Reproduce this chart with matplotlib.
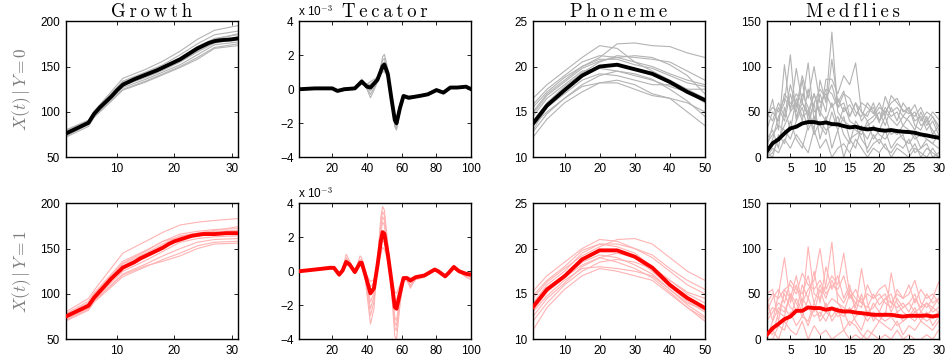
import matplotlib
matplotlib.use('Agg')
import matplotlib.pyplot as plt

plt.rcParams['mathtext.fontset'] = 'cm'
plt.rcParams['font.family'] = ['Liberation Sans', 'DejaVu Sans']

# ---------------- data ----------------
# Growth (x = 1..31)
growth_x = list(range(1, 32))
growth_mean0 = [76, 79, 82, 85, 88, 98, 105, 111, 117, 124, 130, 133, 136, 138.5, 141,
                143.5, 146, 149, 152, 155, 158, 162, 166, 170, 173, 176, 178, 179, 179.5, 180, 181]
growth_mean1 = [75, 78, 81, 84, 87, 96, 103, 110, 117, 123, 129, 132, 135, 139, 142,
                145, 148, 151, 155, 158, 160, 162, 164, 165, 166, 166, 166, 166.5, 167, 167, 167]
growth_knots = [1, 5, 6, 11, 15, 18, 21, 24, 27, 31]
growth_curves0 = [
    [80, 91, 101, 137, 147, 156, 167, 180, 190, 195],
    [78, 90, 100, 134, 144, 152, 163, 175, 185, 189],
    [77, 89, 99, 132, 142, 150, 160, 172, 181, 185],
    [76, 88, 98, 131, 140, 148, 157, 168, 178, 182],
    [75, 88, 97, 129, 138, 146, 155, 166, 176, 180],
    [74, 87, 96, 127, 136, 144, 152, 163, 174, 177],
    [73, 86, 95, 125, 134, 142, 150, 160, 171, 175],
    [72, 84, 94, 124, 133, 141, 149, 158, 170, 173],
    [79, 90, 100, 133, 143, 150, 158, 170, 180, 186],
    [76, 89, 98, 130, 139, 147, 156, 167, 177, 179],
]
growth_curves1 = [
    [80, 95, 104, 145, 158, 168, 176, 179, 181, 183],
    [78, 92, 101, 136, 148, 158, 166, 169, 171, 172],
    [76, 89, 99, 133, 145, 155, 164, 167, 169, 170],
    [75, 88, 97, 131, 143, 153, 162, 165, 167, 168],
    [74, 86, 95, 128, 140, 150, 160, 164, 165, 166],
    [73, 85, 94, 125, 137, 147, 157, 161, 163, 164],
    [71, 83, 92, 122, 133, 142, 150, 157, 160, 161],
    [70, 82, 91, 119, 130, 138, 145, 153, 157, 158],
    [72, 84, 93, 121, 131, 136, 142, 150, 155, 156],
    [77, 90, 100, 134, 147, 158, 163, 167, 170, 174],
]

# Tecator (units of 1e-3)
tec_x0 = [1, 10, 20, 23, 27, 33, 37, 40, 42, 46, 49, 50, 52, 54, 56, 57, 59, 61, 64,
          70, 75, 80, 84, 88, 92, 97, 100]
tec_mean0 = [0, 0.05, 0.05, -0.1, 0.0, 0.05, 0.45, 0.15, 0.1, 0.55, 1.35, 1.45, 0.9, -0.5,
             -1.8, -2.0, -1.1, -0.4, -0.5, -0.4, -0.3, -0.05, -0.2, 0.1, 0.1, 0.15, 0.0]
tec_curves0 = [
    [0.02, 0.08, 0.1, -0.05, 0.1, 0.1, 0.6, 0.0, -0.5, 0.4, 1.9, 2.05, 1.2, -0.6, -2.2, -2.4,
     -1.3, -0.45, -0.6, -0.45, -0.35, -0.1, -0.25, 0.05, 0.1, 0.2, 0.05],
    [0, 0.05, 0.08, -0.1, 0.05, 0.08, 0.55, 0.05, -0.3, 0.45, 1.7, 1.8, 1.1, -0.55, -2.1, -2.3,
     -1.2, -0.4, -0.55, -0.4, -0.3, -0.05, -0.2, 0.1, 0.12, 0.15, 0.0],
    [-0.02, 0.03, 0.03, -0.15, -0.05, 0.03, 0.35, 0.25, 0.3, 0.65, 1.1, 1.2, 0.75, -0.4, -1.6,
     -1.8, -0.95, -0.35, -0.45, -0.35, -0.25, 0.0, -0.15, 0.12, 0.1, 0.12, -0.02],
    [0.0, 0.06, 0.04, -0.12, 0.0, 0.05, 0.4, 0.2, 0.2, 0.6, 1.2, 1.3, 0.8, -0.45, -1.7, -1.9,
     -1.0, -0.35, -0.5, -0.4, -0.3, -0.05, -0.18, 0.08, 0.08, 0.14, 0.0],
    [0.03, 0.07, 0.06, -0.08, 0.05, 0.07, 0.5, 0.1, -0.1, 0.5, 1.5, 1.6, 1.0, -0.5, -1.95,
     -2.15, -1.15, -0.42, -0.52, -0.42, -0.32, -0.08, -0.22, 0.1, 0.1, 0.16, 0.02],
    [0.0, 0.04, 0.05, -0.1, 0.0, 0.06, 0.3, 0.3, 0.45, 0.7, 1.0, 1.05, 0.7, -0.35, -1.5, -1.7,
     -0.9, -0.3, -0.4, -0.35, -0.25, 0.0, -0.12, 0.12, 0.12, 0.12, 0.0],
]
tec_x1 = [1, 10, 19, 21, 24, 26, 28, 30, 33, 36, 37, 39, 42, 44, 46, 48, 49, 50, 52, 54,
          56, 57, 59, 61, 63, 65, 68, 73, 79, 81, 85, 87, 90, 93, 97, 100]
tec_mean1 = [0, 0.1, 0.2, 0.2, -0.2, 0.05, 0.55, 0.4, -0.05, 0.5, 0.5, -0.2, -1.3, -1.0, 0.3,
             1.8, 2.3, 2.2, 1.0, -0.5, -2.1, -2.2, -1.3, -0.4, -0.4, -0.55, -0.35, -0.25, 0.1,
             0.0, -0.3, -0.1, 0.25, 0.0, -0.15, -0.2]
tec_curves1 = [
    [0.02, 0.15, 0.3, 0.25, -0.3, 0.1, 1.0, 0.6, -0.1, 0.9, 0.8, -0.5, -3.1, -2.2, 0.5, 3.2,
     3.8, 3.6, 1.6, -1.0, -3.8, -4.0, -2.0, -0.5, -0.6, -0.9, -0.5, -0.35, 0.05, -0.05, -0.35,
     -0.15, 0.3, -0.05, -0.35, -0.5],
    [0.0, 0.12, 0.25, 0.22, -0.25, 0.08, 0.8, 0.5, -0.08, 0.7, 0.7, -0.35, -2.6, -1.8, 0.4, 2.9,
     3.5, 3.3, 1.4, -0.8, -3.3, -3.5, -1.8, -0.45, -0.5, -0.8, -0.45, -0.3, 0.1, 0.0, -0.3,
     -0.1, 0.35, 0.0, -0.25, -0.4],
    [0.0, 0.08, 0.15, 0.18, -0.15, 0.03, 0.35, 0.3, 0.0, 0.3, 0.3, -0.1, -0.6, -0.5, 0.2, 1.0,
     1.4, 1.3, 0.6, -0.3, -1.2, -1.3, -0.8, -0.35, -0.3, -0.4, -0.3, -0.2, 0.1, 0.05, -0.25,
     -0.05, 0.2, 0.02, -0.1, -0.1],
    [0.01, 0.1, 0.2, 0.2, -0.2, 0.05, 0.6, 0.45, -0.05, 0.55, 0.55, -0.25, -1.8, -1.3, 0.35,
     2.3, 2.9, 2.7, 1.2, -0.6, -2.7, -2.9, -1.5, -0.4, -0.45, -1.0, -0.4, -0.28, 0.15, 0.02,
     -0.3, -0.08, 0.28, 0.0, -0.2, -0.3],
    [0.0, 0.1, 0.18, 0.15, -0.18, 0.0, 0.4, 0.35, 0.0, 0.4, 0.4, -0.15, -0.9, -0.7, 0.25, 1.4,
     1.8, 1.7, 0.8, -0.4, -1.6, -1.7, -1.0, -0.38, -0.35, -0.45, -0.32, -0.22, 0.05, -0.02,
     -0.28, -0.12, 0.22, -0.02, -0.12, -0.15],
    [0.02, 0.12, 0.22, 0.22, -0.22, 0.06, 0.7, 0.45, -0.1, 0.6, 0.6, -0.3, -2.2, -1.5, 0.4, 2.6,
     3.2, 3.0, 1.3, -0.7, -3.0, -3.2, -1.6, -0.42, -0.48, -0.65, -0.42, -0.3, 0.12, 0.0, -0.32,
     -0.1, 0.3, -0.03, -0.3, -0.35],
]

# Phoneme
phon_x = [1, 5, 10, 15, 20, 25, 30, 35, 40, 45, 50]
phon_mean0 = [13.7, 15.7, 17.4, 19.0, 20.0, 20.2, 19.7, 19.2, 18.3, 17.2, 16.3]
phon_mean1 = [13.55, 15.5, 16.95, 18.8, 19.8, 19.8, 19.1, 17.9, 16.0, 14.55, 13.45]
phon_curves0 = [
    [16.5, 18.0, 19.5, 21.0, 22.3, 22.0, 20.5, 19.5, 18.5, 17.5, 16.5],
    [15.0, 17.0, 18.5, 20.0, 21.0, 22.5, 22.6, 22.3, 22.2, 21.5, 21.0],
    [14.0, 16.0, 17.8, 19.3, 20.5, 21.2, 21.0, 20.8, 20.5, 19.5, 18.5],
    [13.5, 15.0, 16.5, 17.8, 18.2, 18.5, 18.0, 17.0, 16.5, 16.0, 15.0],
    [12.2, 14.2, 16.0, 17.2, 18.2, 18.2, 17.5, 16.8, 16.5, 15.0, 13.5],
    [15.5, 17.2, 18.8, 20.0, 20.8, 20.8, 20.2, 19.8, 19.0, 18.2, 17.8],
    [14.5, 16.5, 18.0, 19.5, 19.8, 19.5, 19.0, 18.5, 17.8, 17.2, 16.0],
    [13.0, 15.5, 17.0, 18.5, 19.2, 19.0, 18.5, 18.0, 18.0, 17.5, 17.5],
    [15.8, 17.5, 19.0, 20.5, 21.2, 21.0, 20.5, 20.0, 19.2, 18.5, 18.0],
    [12.8, 14.8, 16.5, 18.0, 19.0, 19.5, 19.2, 18.6, 17.5, 16.2, 14.5],
    [14.8, 16.8, 18.3, 19.8, 20.6, 21.0, 21.2, 21.0, 20.2, 19.0, 17.0],
]
phon_curves1 = [
    [15.3, 17.0, 18.5, 20.0, 21.0, 20.8, 20.0, 19.0, 17.5, 16.0, 15.0],
    [14.5, 16.3, 17.8, 19.2, 20.2, 21.0, 21.1, 20.5, 19.0, 17.5, 16.5],
    [13.0, 14.8, 16.5, 17.8, 18.0, 17.8, 17.5, 17.0, 15.5, 13.8, 12.5],
    [11.0, 13.5, 15.5, 17.0, 17.8, 17.5, 17.0, 16.5, 15.0, 13.5, 12.0],
    [14.0, 16.0, 17.5, 19.5, 20.5, 20.2, 19.5, 18.0, 16.5, 15.0, 14.0],
    [12.5, 14.5, 16.2, 18.0, 19.0, 19.5, 19.0, 17.5, 15.8, 14.2, 13.0],
    [13.5, 15.5, 17.0, 18.5, 19.3, 19.0, 18.2, 17.2, 15.5, 14.0, 13.2],
    [12.0, 14.0, 16.0, 17.5, 18.5, 18.8, 18.5, 17.8, 16.5, 15.2, 14.5],
    [14.8, 16.5, 18.0, 19.8, 20.5, 20.5, 20.0, 19.3, 17.8, 16.5, 15.5],
    [13.2, 15.2, 16.8, 18.2, 19.0, 18.5, 17.8, 16.8, 15.2, 13.5, 12.3],
]

# Medflies (x = 1..30)
med_x = list(range(1, 31))
med_mean0 = [6.2, 15.4, 19.8, 26.3, 31.8, 33.7, 37.3, 38.8, 38.8, 37.3, 38.4, 36.6, 36.2, 34.4,
             32.9, 33.7, 31.8, 30.7, 31.5, 30.0, 29.3, 30.0, 28.9, 28.2, 27.8, 27.0, 25.2, 24.1,
             22.7, 21.6]
med_mean1 = [4.8, 12.2, 17.0, 22.2, 25.1, 31.4, 31.4, 35.1, 34.4, 34.4, 32.5, 34.0, 31.8, 30.7,
             30.7, 29.5, 28.8, 28.0, 27.0, 27.0, 27.0, 27.0, 25.9, 25.1, 25.9, 25.9, 25.9, 26.3,
             25.1, 26.3]
med_curves0 = [
    [0, 20, 45, 60, 113, 40, 70, 55, 30, 85, 60, 138, 50, 40, 35, 30, 25, 40, 20, 30, 45, 25, 30, 20, 15, 25, 10, 20, 15, 10],
    [40, 64, 30, 102, 50, 98, 60, 104, 40, 70, 50, 108, 60, 73, 45, 60, 40, 50, 55, 38, 67, 50, 55, 45, 40, 30, 50, 35, 45, 30],
    [10, 35, 55, 40, 70, 45, 60, 50, 70, 45, 86, 86, 70, 90, 80, 104, 50, 40, 45, 55, 50, 60, 65, 50, 55, 40, 45, 30, 40, 25],
    [0, 5, 20, 35, 50, 60, 40, 75, 50, 55, 75, 70, 55, 60, 40, 35, 20, 10, 25, 15, 30, 10, 20, 25, 5, 15, 0, 10, 5, 0],
    [50, 40, 60, 45, 80, 55, 90, 65, 100, 60, 70, 55, 65, 50, 58, 45, 60, 55, 48, 60, 45, 68, 60, 52, 48, 58, 40, 50, 45, 35],
    [20, 30, 10, 55, 30, 65, 45, 50, 25, 40, 30, 35, 45, 25, 15, 40, 30, 35, 40, 50, 35, 55, 40, 60, 50, 45, 55, 40, 50, 42],
    [5, 0, 25, 15, 40, 20, 10, 35, 60, 20, 45, 10, 30, 0, 20, 10, 35, 5, 15, 20, 10, 5, 15, 10, 20, 5, 10, 15, 0, 5],
    [30, 50, 40, 70, 60, 50, 85, 40, 60, 75, 65, 80, 55, 70, 65, 50, 45, 60, 50, 40, 55, 45, 50, 35, 45, 50, 35, 40, 30, 20],
    [15, 25, 35, 30, 20, 40, 55, 30, 45, 35, 25, 50, 30, 45, 20, 25, 30, 20, 35, 25, 20, 30, 25, 35, 30, 20, 25, 20, 15, 25],
    [45, 55, 50, 65, 55, 70, 60, 45, 70, 50, 40, 60, 35, 55, 45, 60, 50, 45, 60, 40, 50, 42, 35, 45, 55, 35, 30, 45, 25, 35],
    [0, 10, 5, 20, 10, 25, 15, 5, 30, 10, 20, 0, 10, 15, 5, 20, 10, 0, 10, 5, 15, 0, 10, 5, 0, 10, 5, 0, 10, 0],
]
med_curves1 = [
    [0, 20, 50, 90, 40, 60, 35, 102, 50, 45, 60, 107, 40, 30, 50, 35, 78, 40, 20, 30, 25, 73, 40, 30, 25, 35, 20, 30, 15, 25],
    [50, 55, 20, 55, 45, 70, 40, 55, 65, 100, 55, 70, 60, 95, 50, 40, 35, 60, 45, 50, 40, 35, 55, 45, 50, 65, 40, 35, 45, 63],
    [10, 5, 30, 25, 50, 30, 60, 45, 75, 40, 80, 55, 70, 45, 60, 30, 50, 25, 40, 30, 45, 50, 30, 35, 40, 30, 35, 40, 30, 35],
    [0, 0, 15, 10, 30, 15, 25, 20, 40, 20, 30, 25, 35, 10, 20, 15, 5, 0, 10, 20, 15, 10, 20, 5, 15, 10, 20, 15, 10, 20],
    [40, 50, 45, 55, 60, 50, 73, 60, 55, 65, 50, 60, 55, 70, 45, 55, 40, 50, 45, 55, 60, 40, 50, 45, 60, 40, 55, 45, 50, 40],
    [20, 30, 40, 35, 25, 45, 30, 15, 35, 25, 40, 20, 30, 25, 35, 20, 10, 30, 25, 20, 30, 25, 15, 20, 25, 30, 25, 20, 25, 30],
    [5, 10, 0, 20, 10, 5, 20, 0, 15, 5, 10, 0, 5, 10, 0, 5, 0, 10, 5, 0, 5, 0, 10, 0, 5, 0, 0, 5, 0, 10],
    [30, 45, 55, 40, 65, 55, 50, 70, 40, 60, 45, 65, 50, 40, 55, 45, 40, 35, 50, 38, 45, 40, 35, 40, 30, 45, 35, 50, 40, 45],
    [25, 35, 30, 50, 35, 30, 45, 35, 25, 30, 20, 35, 25, 30, 15, 25, 30, 20, 30, 25, 20, 25, 30, 20, 25, 20, 30, 25, 35, 30],
    [45, 20, 35, 30, 50, 40, 25, 45, 30, 55, 35, 45, 40, 35, 30, 40, 45, 30, 35, 45, 50, 30, 45, 35, 40, 50, 30, 40, 35, 45],
]

titles = ['Growth', 'Tecator', 'Phoneme', 'Medflies']
row_labels = [r'$X(t)\,|\,Y=0$', r'$X(t)\,|\,Y=1$']

# panel specs per row: (thin x, thin curves, mean x, mean)
panels = [
    [(growth_knots, growth_curves0, growth_x, growth_mean0),
     (tec_x0, tec_curves0, tec_x0, tec_mean0),
     (phon_x, phon_curves0, phon_x, phon_mean0),
     (med_x, med_curves0, med_x, med_mean0)],
    [(growth_knots, growth_curves1, growth_x, growth_mean1),
     (tec_x1, tec_curves1, tec_x1, tec_mean1),
     (phon_x, phon_curves1, phon_x, phon_mean1),
     (med_x, med_curves1, med_x, med_mean1)],
]
xlims = [(1, 31), (1, 100), (1, 50), (1, 30)]
ylims = [(50, 200), (-4, 4), (10, 25), (0, 150)]
xticks = [[10, 20, 30], [20, 40, 60, 80, 100], [10, 20, 30, 40, 50], [5, 10, 15, 20, 25, 30]]
yticks = [[50, 100, 150, 200], [-4, -2, 0, 2, 4], [10, 15, 20, 25], [0, 50, 100, 150]]

thin_colors = ['#b3b3b3', '#ffb3b3']
mean_colors = ['black', '#ff0000']

fig = plt.figure(figsize=(9.5, 3.62), dpi=100)
lefts = [0.069, 0.315, 0.561, 0.807]
bottoms = [0.5655, 0.0627]
w, h = 0.181, 0.376

for r in range(2):
    for c in range(4):
        ax = fig.add_axes([lefts[c], bottoms[r], w, h])
        tx, curves, mx, mean = panels[r][c]
        for cv in curves:
            ax.plot(tx, cv, color=thin_colors[r], lw=0.8, zorder=1)
        ax.plot(mx, mean, color=mean_colors[r], lw=2.8, zorder=3)
        ax.set_xlim(*xlims[c])
        ax.set_ylim(*ylims[c])
        ax.set_xticks(xticks[c])
        ax.set_yticks(yticks[c])
        ax.tick_params(direction='in', top=True, right=True, length=3, width=0.6,
                       labelsize=8.5, pad=4)
        for s in ax.spines.values():
            s.set_linewidth(1.0)
        if c == 1:
            ax.text(-0.01, 1.02, r'x 10$^{-3}$', transform=ax.transAxes, fontsize=8.5,
                    ha='left', va='bottom')
        if r == 0:
            spaced = '\u2009'.join(titles[c])
            ax.set_title(spaced, fontfamily=['cmr10', 'DejaVu Serif'], fontsize=13.5, pad=3)
        if c == 0:
            ax.set_ylabel(row_labels[r], fontsize=12.5, color='#7f7f7f', labelpad=5)

plt.savefig('out.png', dpi=100, facecolor='white')
